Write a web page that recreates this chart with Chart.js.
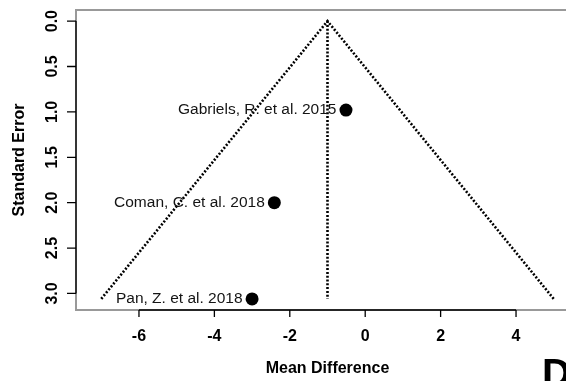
<!DOCTYPE html>
<html>
<head>
<meta charset="utf-8">
<title>Funnel plot</title>
<script src="https://cdn.jsdelivr.net/npm/chart.js@4.4.1/dist/chart.umd.min.js"></script>
<style>
  html, body { margin: 0; padding: 0; background: #fff; overflow: hidden; }
  canvas { display: block; }
</style>
</head>
<body>
<canvas id="c" width="600" height="381"></canvas>
<script>
// Study estimates
const studies  = ['Gabriels, R. et al. 2015', 'Coman, C. et al. 2018', 'Pan, Z. et al. 2018'];
const meanDiff = [-0.51, -2.41, -3.0];
const stdErr   = [0.98, 2.0, 3.06];

// Pseudo-confidence funnel (95%) around the pooled estimate
const funnelX  = [-7.0, -1.0, 5.0];
const funnelSE = [3.06, 0, 3.06];
const pooledX  = [-1.0, -1.0];
const pooledSE = [0, 3.06];

// Axis ticks and limits
const xTicks = [-6, -4, -2, 0, 2, 4];
const yTicks = [0, 0.5, 1, 1.5, 2, 2.5, 3];
const xLimits = [-7.67, 5.67];
const yLimits = [-0.1224, 3.1824];

const FONT = '"Liberation Sans", Arial, sans-serif';

const pts = (xs, ys) => xs.map((x, i) => ({ x: x, y: ys[i] }));

const axesPlugin = {
  id: 'baseAxes',
  beforeDatasetsDraw(chart) {
    const { ctx, chartArea: a } = chart;
    ctx.save();
    // plot frame
    ctx.strokeStyle = '#999999';
    ctx.lineWidth = 2;
    ctx.strokeRect(a.left, a.top, a.right - a.left, a.bottom - a.top);
    ctx.restore();
  },
  afterDraw(chart) {
    const { ctx, chartArea: a, scales: { x, y } } = chart;
    ctx.save();
    ctx.strokeStyle = '#000';
    ctx.fillStyle = '#000';
    ctx.lineWidth = 1.3;

    // x axis line and ticks
    const x0 = x.getPixelForValue(xTicks[0]);
    const x1 = x.getPixelForValue(xTicks[xTicks.length - 1]);
    ctx.beginPath();
    ctx.moveTo(x0, a.bottom); ctx.lineTo(x1, a.bottom);
    xTicks.forEach(t => {
      const px = x.getPixelForValue(t);
      ctx.moveTo(px, a.bottom); ctx.lineTo(px, a.bottom + 7);
    });
    ctx.stroke();

    ctx.font = 'bold 16px ' + FONT;
    ctx.textAlign = 'center';
    ctx.textBaseline = 'middle';
    xTicks.forEach(t => {
      ctx.fillText(String(t), x.getPixelForValue(t), 337);
    });

    // y axis line and ticks
    const y0 = y.getPixelForValue(yTicks[0]);
    const y1 = y.getPixelForValue(yTicks[yTicks.length - 1]);
    ctx.beginPath();
    ctx.moveTo(a.left, y0); ctx.lineTo(a.left, y1);
    yTicks.forEach(t => {
      const py = y.getPixelForValue(t);
      ctx.moveTo(a.left, py); ctx.lineTo(a.left - 9, py);
    });
    ctx.stroke();

    yTicks.forEach(t => {
      const py = y.getPixelForValue(t);
      ctx.save();
      ctx.translate(53, py);
      ctx.rotate(-Math.PI / 2);
      ctx.fillText(t.toFixed(1), 0, 0);
      ctx.restore();
    });

    // axis titles
    ctx.fillText('Mean Difference', (a.left + a.right) / 2, 369);
    ctx.save();
    ctx.translate(20, (a.top + a.bottom) / 2);
    ctx.rotate(-Math.PI / 2);
    ctx.fillText('Standard Error', 0, 0);
    ctx.restore();

    // panel letter
    ctx.font = 'bold 40px ' + FONT;
    ctx.textAlign = 'left';
    ctx.textBaseline = 'alphabetic';
    ctx.fillText('D', 542, 387);
    ctx.restore();
  }
};

const studyLabels = {
  id: 'studyLabels',
  afterDatasetsDraw(chart) {
    const { ctx } = chart;
    const meta = chart.getDatasetMeta(2);
    ctx.save();
    ctx.font = '15.5px ' + FONT;
    ctx.fillStyle = '#141414';
    ctx.textAlign = 'right';
    ctx.textBaseline = 'middle';
    meta.data.forEach((el, i) => {
      ctx.fillText(studies[i], el.x - 9.5, el.y);
    });
    ctx.restore();
  }
};

new Chart(document.getElementById('c'), {
  type: 'scatter',
  data: {
    datasets: [
      {
        label: 'funnel',
        data: pts(funnelX, funnelSE),
        showLine: true,
        borderColor: '#000',
        borderWidth: 2.6,
        borderDash: [2, 1.8],
        pointRadius: 0,
        fill: false
      },
      {
        label: 'pooled',
        data: pts(pooledX, pooledSE),
        showLine: true,
        borderColor: '#000',
        borderWidth: 2.6,
        borderDash: [2, 1.8],
        pointRadius: 0,
        fill: false
      },
      {
        label: 'studies',
        data: pts(meanDiff, stdErr),
        pointRadius: 6.5,
        pointBackgroundColor: '#000',
        pointBorderColor: '#000',
        pointBorderWidth: 0,
        showLine: false
      }
    ]
  },
  options: {
    responsive: false,
    animation: false,
    devicePixelRatio: 1,
    layout: { padding: { left: 76, top: 10, right: 21, bottom: 71 } },
    plugins: { legend: { display: false }, tooltip: { enabled: false } },
    scales: {
      x: { type: 'linear', min: xLimits[0], max: xLimits[1], display: false },
      y: { type: 'linear', min: yLimits[0], max: yLimits[1], reverse: true, display: false }
    }
  },
  plugins: [axesPlugin, studyLabels]
});
</script>
</body>
</html>
